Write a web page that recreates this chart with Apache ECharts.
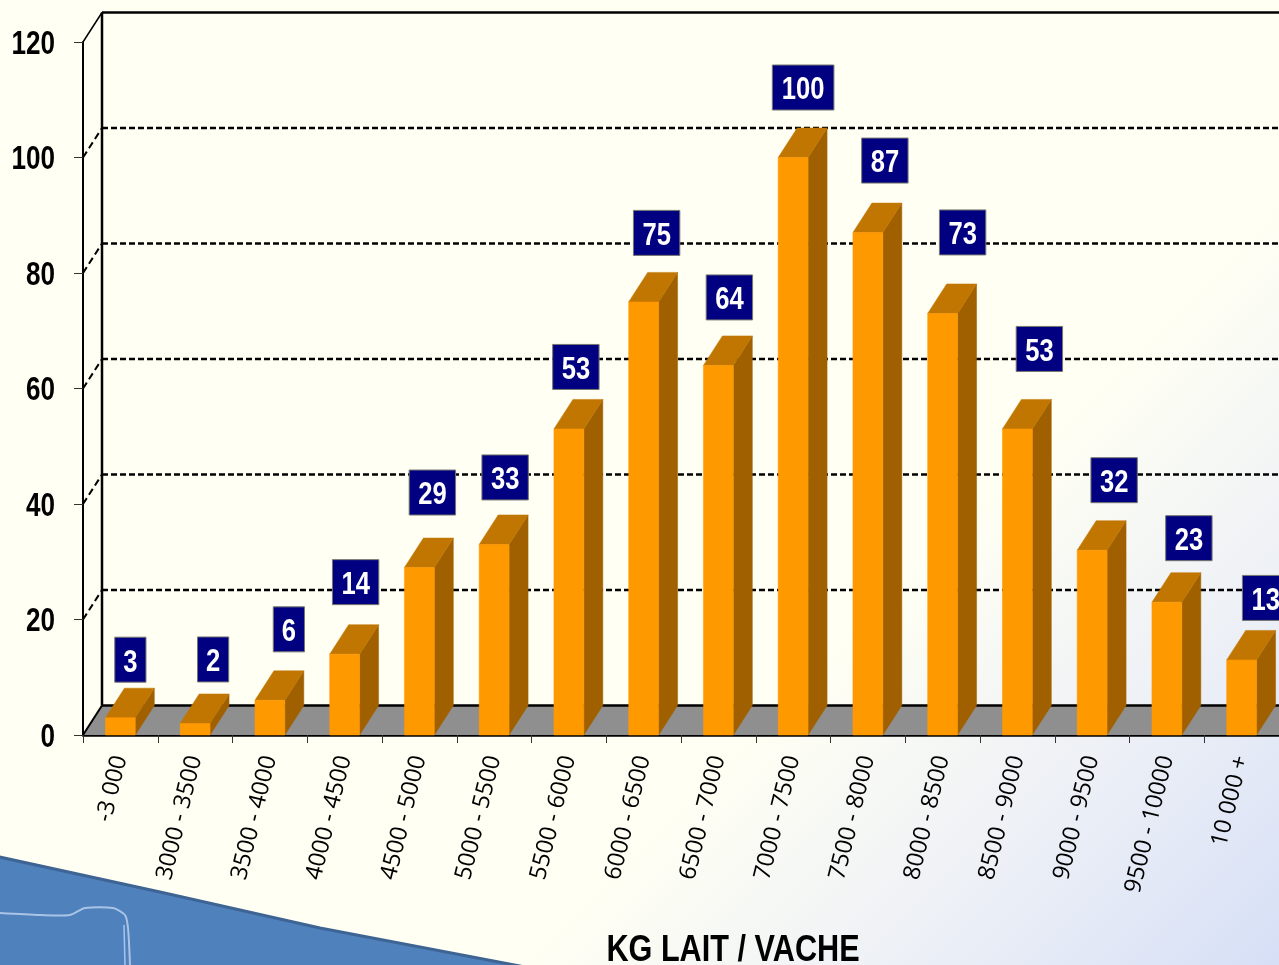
<!DOCTYPE html>
<html><head><meta charset="utf-8">
<style>html,body{margin:0;padding:0;overflow:hidden;background:#fffff3}#c{width:1279px;height:965px}</style>
<script src="https://cdn.jsdelivr.net/npm/echarts@6/dist/echarts.min.js"></script>
</head><body><div id="c"></div>
<script>
const categories = ["-3 000","3000 - 3500","3500 - 4000","4000 - 4500","4500 - 5000","5000 - 5500","5500 - 6000","6000 - 6500","6500 - 7000","7000 - 7500","7500 - 8000","8000 - 8500","8500 - 9000","9000 - 9500","9500 - 10000","10 000 +"];
const values = [3,2,6,14,29,33,53,75,64,100,87,73,53,32,23,13];
const yTickLabels = [0,20,40,60,80,100,120];
const yGridLines = [20,40,60,80,100];
const axisTitle = "KG LAIT / VACHE";

// label placement relative to the front-top of each bar, in pixels
const labelDx = [10,18,19,11,13,11,7,13,11,10,17,20,22,22,22,24];
const labelDy = [-58,-64,-71,-72,-75,-67,-62,-69,-68,-70,-72,-81,-80,-70,-64,-62];

const DEPTH_X = 19, DEPTH_Y = -29.5;
const BOLD = '"Liberation Sans",Arial,sans-serif';

const chart = echarts.init(document.getElementById('c'), null, {renderer:'canvas', width:1279, height:965});

function line(x1,y1,x2,y2,style){return {type:'line',shape:{x1,y1,x2,y2},style};}

chart.setOption({
  animation:false,
  backgroundColor:{type:'linear',x:740,y:740,x2:1122,y2:1122,global:true,colorStops:[
    {offset:0,color:'#fffff3'},{offset:0.47,color:'#eef1f6'},{offset:1,color:'#d6dff6'}]},
  grid:{left:83,right:0,top:42,bottom:230},
  xAxis:{type:'category',data:categories,
    axisLine:{lineStyle:{color:'#000',width:2.5}},
    axisTick:{show:true,alignWithLabel:false,length:8,lineStyle:{color:'#333',width:1}},
    axisLabel:{interval:0,rotate:76,margin:21,fontFamily:'"Open Sans",sans-serif',fontSize:23.5,color:'#000'},
    splitLine:{show:false}},
  yAxis:{type:'value',min:0,max:120,interval:20,
    axisLine:{show:true,lineStyle:{color:'#000',width:2}},
    axisTick:{show:true,length:9,lineStyle:{color:'#333',width:1}},
    axisLabel:{show:false},
    splitLine:{show:false}},
  graphic:[
    {type:'polygon',silent:true,z:-1,shape:{points:[[-5,856],[160,892],[320,928],[525,967],[-5,967]]},
      style:{fill:'#4f81bd',stroke:'#3e6494',lineWidth:3}},
    {type:'polyline',silent:true,z:-1,shape:{smooth:0.25,points:[[0,913],[40,915],[70,915],[85,908],[113,908],[125,915],[128,928],[130,965]]},
      style:{fill:'none',stroke:'#a9c4e6',lineWidth:2}},
    {type:'polyline',silent:true,z:-1,shape:{points:[[124,925],[125,965]]},
      style:{fill:'none',stroke:'#a9c4e6',lineWidth:1.5}},
    {type:'text',silent:true,z:10,x:733,y:951,scaleX:0.84,
      style:{x:0,y:0,text:axisTitle,align:'center',verticalAlign:'middle',fill:'#000',
        fontFamily:BOLD,fontWeight:'bold',fontSize:36.5}}
  ],
  series:[
    {type:'custom',coordinateSystem:'cartesian2d',z:1,silent:true,data:[[0,0]],
      renderItem(params,api){
        const cs=params.coordSys, x0=cs.x, x1=cs.x+cs.width, base=api.coord([0,0])[1], top=api.coord([0,120])[1];
        const black={stroke:'#000',lineWidth:2.5};
        return {type:'group',children:[
          {type:'polygon',shape:{points:[[x0,base],[x0+DEPTH_X,base+DEPTH_Y],[x1,base+DEPTH_Y],[x1,base]]},style:{fill:'#8f8f8f'}},
          line(x0,base,x0+DEPTH_X,base+DEPTH_Y,{stroke:'#000',lineWidth:2}),
          line(x0+DEPTH_X,base+DEPTH_Y,x1,base+DEPTH_Y,black),
          line(x0+DEPTH_X,base+DEPTH_Y,x0+DEPTH_X,top+DEPTH_Y,black),
          line(x0+DEPTH_X,top+DEPTH_Y,x1,top+DEPTH_Y,black),
          line(x0,top,x0+DEPTH_X,top+DEPTH_Y,{stroke:'#000',lineWidth:1.5})
        ]};
      }},
    {type:'custom',coordinateSystem:'cartesian2d',z:2,silent:true,data:yGridLines.map(v=>[0,v]),encode:{y:1},
      renderItem(params,api){
        const cs=params.coordSys, y=api.coord([0,api.value(1)])[1], x0=cs.x, x1=cs.x+cs.width;
        const dash={stroke:'#000',lineWidth:2.5,lineDash:[6,3]};
        return {type:'group',children:[
          line(x0,y,x0+DEPTH_X,y+DEPTH_Y,{stroke:'#000',lineWidth:2,lineDash:[7,4]}),
          line(x0+DEPTH_X,y+DEPTH_Y,x1,y+DEPTH_Y,dash)
        ]};
      }},
    {type:'custom',coordinateSystem:'cartesian2d',z:2,silent:true,data:yTickLabels.map(v=>[0,v]),encode:{y:1},
      renderItem(params,api){
        const v=api.value(1), y=api.coord([0,v])[1];
        return {type:'text',x:55,y:y+2.5,scaleX:0.79,
          style:{x:0,y:0,text:String(v),align:'right',verticalAlign:'middle',fill:'#000',
            fontFamily:BOLD,fontWeight:'bold',fontSize:33}};
      }},
    {type:'custom',coordinateSystem:'cartesian2d',z:3,silent:true,encode:{x:0,y:1},
      data:values.map((v,i)=>[i,v]),
      renderItem(params,api){
        const i=api.value(0), v=api.value(1);
        const top=api.coord([i,v]), base=api.coord([i,0]);
        const w=api.size([1,0])[0]*0.4, l=top[0]-w/2, r=top[0]+w/2;
        const edge=c=>({fill:c,stroke:c,lineWidth:0.5});
        return {type:'group',children:[
          {type:'polygon',shape:{points:[[r,top[1]],[r+DEPTH_X,top[1]+DEPTH_Y],[r+DEPTH_X,base[1]+DEPTH_Y],[r,base[1]]]},style:edge('#a06000')},
          {type:'polygon',shape:{points:[[l,top[1]],[l+DEPTH_X,top[1]+DEPTH_Y],[r+DEPTH_X,top[1]+DEPTH_Y],[r,top[1]]]},style:edge('#c07600')},
          {type:'rect',shape:{x:l,y:top[1],width:r-l,height:base[1]-top[1]},style:edge('#ff9900')}
        ]};
      }},
    {type:'custom',coordinateSystem:'cartesian2d',z:4,silent:true,encode:{x:0,y:1},clip:false,
      data:values.map((v,i)=>[i,v]),
      renderItem(params,api){
        const i=api.value(0), v=api.value(1), p=api.coord([i,v]);
        const cx=p[0]+labelDx[i], cy=p[1]+labelDy[i], t=String(v);
        const bw=16+15.2*t.length, bh=45;
        return {type:'group',children:[
          {type:'rect',shape:{x:cx-bw/2,y:cy-bh/2,width:bw,height:bh},style:{fill:'#000080',stroke:'#77776f',lineWidth:1}},
          {type:'text',x:cx,y:cy+3,scaleX:0.8,style:{x:0,y:0,text:t,align:'center',verticalAlign:'middle',fill:'#fff',
            fontFamily:BOLD,fontWeight:'bold',fontSize:32}}
        ]};
      }}
  ]
});
</script></body></html>
